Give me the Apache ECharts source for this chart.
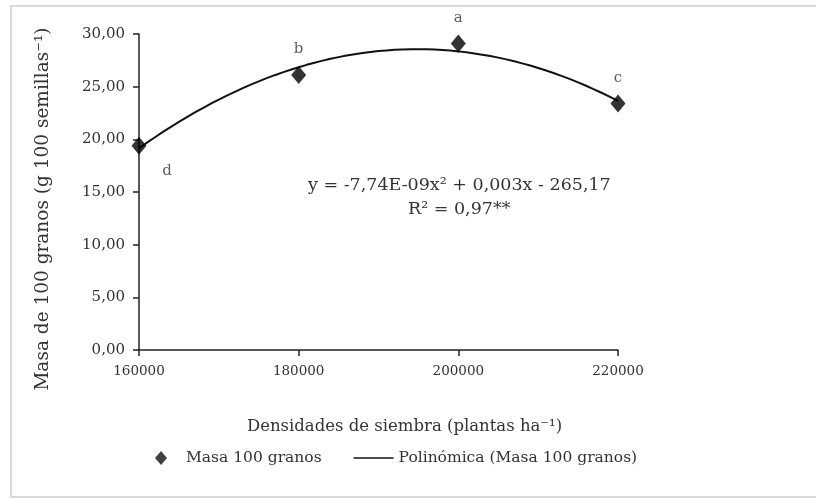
<!DOCTYPE html>
<html>
<head>
<meta charset="utf-8">
<script src="https://cdn.jsdelivr.net/npm/echarts@6/dist/echarts.min.js"></script>
<style>html,body{margin:0;padding:0;background:#fff}#c{width:816px;height:499px}</style>
</head>
<body>
<div id="c"></div>
<script>
// Data
var densities = [160000, 180000, 200000, 220000];
var masses = [19.4, 26.1, 29.1, 23.4];
var letters = ['d', 'b', 'a', 'c'];
var equationText = 'y = -7,74E-09x² + 0,003x - 265,17';
var r2Text = 'R² = 0,97**';
var seriesName = 'Masa 100 granos';
var trendName = 'Polinómica (Masa 100 granos)';
var xTitle = 'Densidades de siembra (plantas ha⁻¹)';
var yTitle = 'Masa de 100 granos (g 100 semillas⁻¹)';

// quadratic least-squares trend line (as in the spreadsheet's trendline)
function quadFit(xs, ys) {
  var n = xs.length, mx = 0;
  xs.forEach(function (x) { mx += x; }); mx /= n;
  var s = 10000;
  var S = [0,0,0,0,0], T = [0,0,0];
  for (var i = 0; i < n; i++) {
    var u = (xs[i] - mx) / s;
    for (var k = 0; k < 5; k++) S[k] += Math.pow(u, k);
    for (var k2 = 0; k2 < 3; k2++) T[k2] += Math.pow(u, k2) * ys[i];
  }
  var A = [[S[0],S[1],S[2],T[0]],[S[1],S[2],S[3],T[1]],[S[2],S[3],S[4],T[2]]];
  for (var c = 0; c < 3; c++) {
    for (var r = c + 1; r < 3; r++) {
      var f = A[r][c] / A[c][c];
      for (var j = c; j < 4; j++) A[r][j] -= f * A[c][j];
    }
  }
  var co = [0,0,0];
  for (var r2 = 2; r2 >= 0; r2--) {
    var v = A[r2][3];
    for (var j2 = r2 + 1; j2 < 3; j2++) v -= A[r2][j2] * co[j2];
    co[r2] = v / A[r2][r2];
  }
  return function (x) { var u = (x - mx) / s; return co[0] + co[1]*u + co[2]*u*u; };
}
var fit = quadFit(densities, masses);
var trend = [];
for (var x = densities[0]; x <= densities[densities.length - 1]; x += 1000) trend.push([x, fit(x)]);

var font = '"DejaVu Serif", "Liberation Serif", serif';
var txt = '#333';
var scatterData = densities.map(function (d, i) {
  var lbl = { show: true, formatter: letters[i], color: txt, fontFamily: font, fontSize: 15 };
  if (i === 0) { lbl.position = 'bottom'; lbl.offset = [28, 4]; }
  else { lbl.position = 'top'; lbl.offset = [0, -4]; }
  return { value: [d, masses[i]], label: lbl };
});

var chart = echarts.init(document.getElementById('c'), null, { renderer: 'canvas' });
chart.setOption({
  animation: false,
  backgroundColor: '#fff',
  textStyle: { fontFamily: font },
  grid: { left: 139, right: 198, top: 34, bottom: 149, containLabel: false },
  xAxis: {
    type: 'value', min: 160000, max: 220000, interval: 20000,
    axisLine: { show: true, lineStyle: { color: '#222', width: 1.5 } },
    axisTick: { show: true, length: 6, lineStyle: { color: '#222', width: 1.5 } },
    axisLabel: { color: txt, fontSize: 13.5, fontFamily: font, margin: 14,
      formatter: function (v) { return String(v); } },
    splitLine: { show: false },
    name: xTitle, nameLocation: 'middle', nameGap: 68,
    nameTextStyle: { color: txt, fontSize: 16.5, fontFamily: font, padding: [0, 0, 0, 52] }
  },
  yAxis: {
    type: 'value', min: 0, max: 30, interval: 5,
    axisLine: { show: true, lineStyle: { color: '#222', width: 1.5 } },
    axisTick: { show: true, length: 6, lineStyle: { color: '#222', width: 1.5 } },
    axisLabel: { color: txt, fontSize: 15, fontFamily: font, margin: 14,
      formatter: function (v) { return v.toFixed(2).replace('.', ','); } },
    splitLine: { show: false },
    name: yTitle, nameLocation: 'middle', nameGap: 86,
    nameTextStyle: { color: txt, fontSize: 18.5, fontFamily: font, padding: [0, 34, 0, 0] }
  },
  legend: {
    bottom: 28, left: 150, itemGap: 32, itemWidth: 40, itemHeight: 14,
    symbolKeepAspect: true,
    textStyle: { color: txt, fontSize: 15.5, fontFamily: font },
    data: [
      { name: seriesName, icon: 'path://M6,0 L12,7 L6,14 L0,7 Z', itemStyle: { color: '#111' } },
      { name: trendName, icon: 'path://M0,0 L40,0 L40,1.6 L0,1.6 Z', itemStyle: { color: '#111' } }
    ]
  },
  series: [
    {
      name: trendName, type: 'line', data: trend, showSymbol: false, smooth: false,
      lineStyle: { color: '#111', width: 2 }, itemStyle: { color: '#111' }, z: 2
    },
    {
      name: seriesName, type: 'scatter', data: scatterData, symbol: 'diamond',
      symbolSize: [15, 18], itemStyle: { color: '#000' }, z: 3
    }
  ],
  graphic: [
    { type: 'rect', shape: { x: 11, y: 6, width: 820, height: 491 },
      style: { fill: 'none', stroke: '#d9d9d9', lineWidth: 2 }, silent: true },
    { type: 'text', left: 308, top: 176,
      style: { text: equationText, fill: txt, fontSize: 17.5, fontFamily: font } },
    { type: 'text', left: 408, top: 200,
      style: { text: r2Text, fill: txt, fontSize: 17.5, fontFamily: font } }
  ]
});
</script>
</body>
</html>
